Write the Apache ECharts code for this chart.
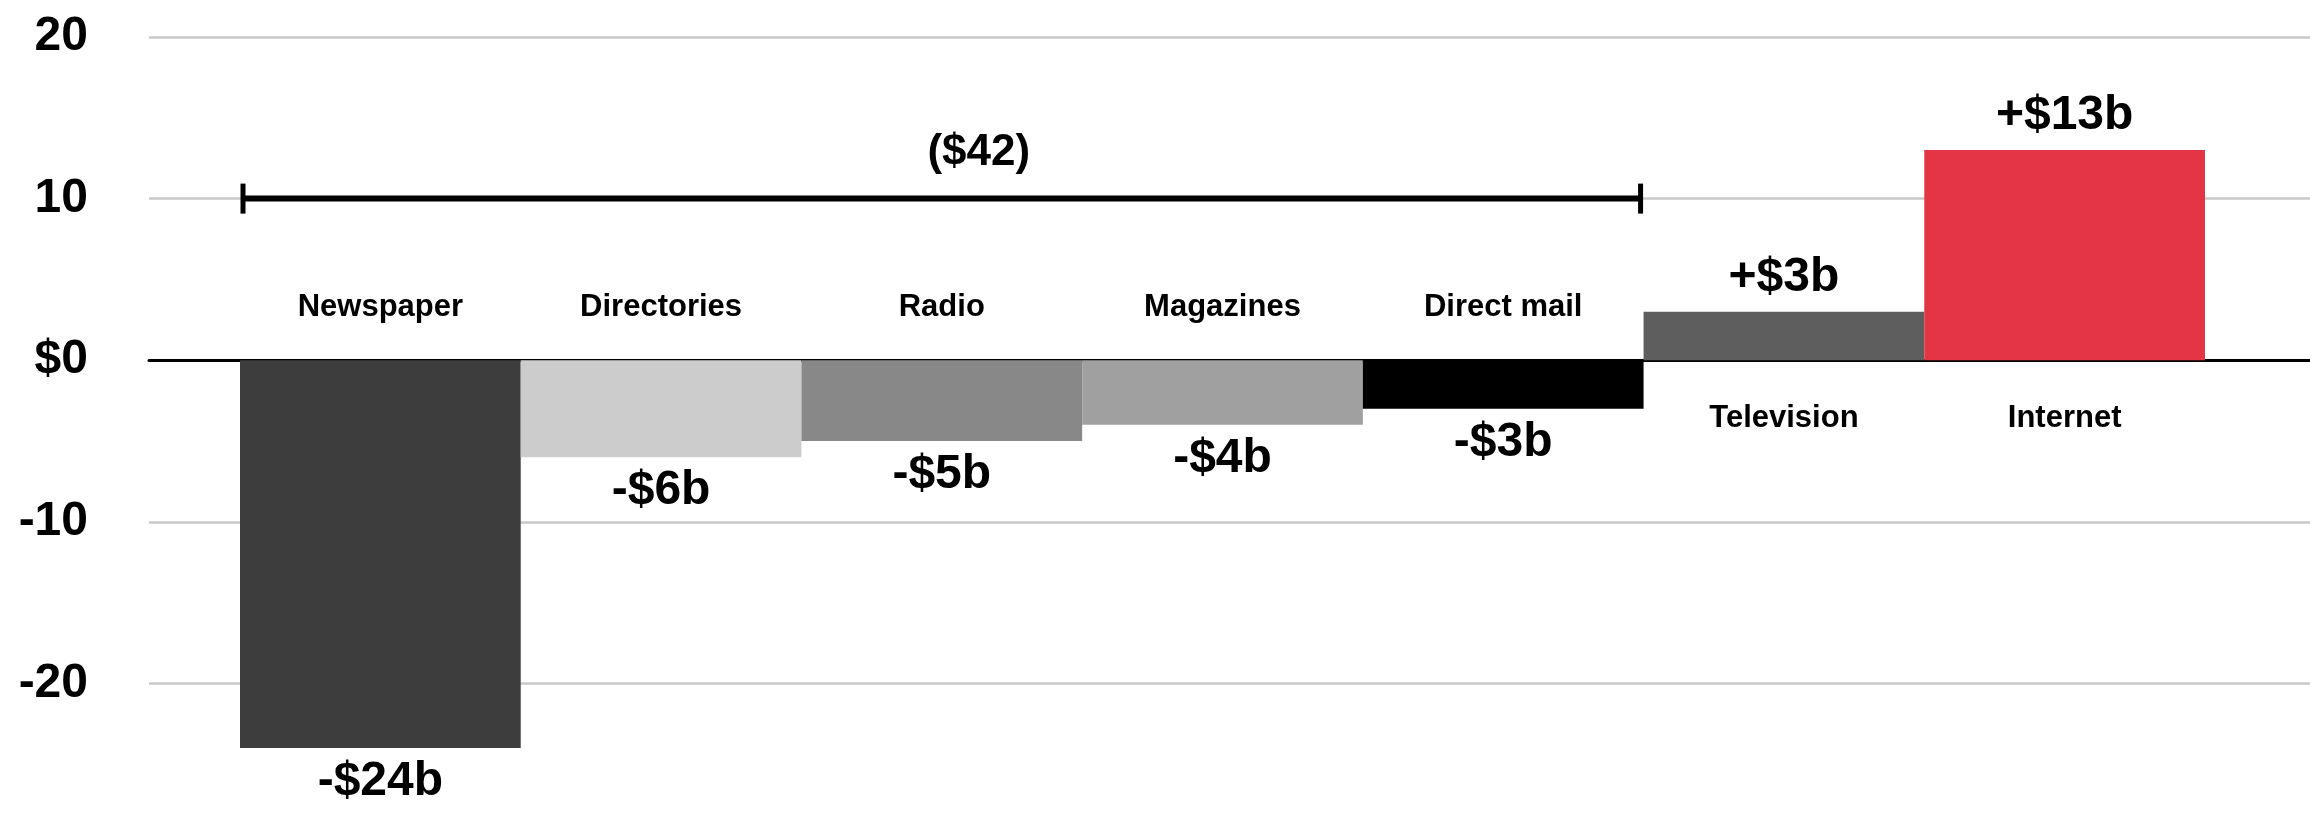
<!DOCTYPE html>
<html>
<head>
<meta charset="utf-8">
<title>Ad spending change by medium</title>
<script src="https://cdn.jsdelivr.net/npm/echarts@6/dist/echarts.min.js"></script>
<style>
  html, body { margin: 0; padding: 0; background: #ffffff; overflow: hidden; }
  /* the lowest tick (-30) sits just past the bottom of the window */
  #chart { width: 2310px; height: 846px; }
</style>
</head>
<body>
<div id="chart"></div>
<script>
// Change in ad spending by medium, $ billions
const categories = ['Newspaper', 'Directories', 'Radio', 'Magazines', 'Direct mail', 'Television', 'Internet'];
const changes = [-24, -6, -5, -4, -3, 3, 13];
const barColors = ['#3d3d3d', '#cccccc', '#888888', '#a0a0a0', '#000000', '#5e5e5e', '#e33546'];

// Y axis ticks
const yMin = -30;
const yMax = 20;
const yStep = 10;

// Bracket summarising the media that lost spending
const bracketFrom = 'Newspaper';
const bracketTo = 'Direct mail';
const bracketLevel = 10;

const FONT = "'Liberation Sans', Arial, Helvetica, sans-serif";

const fromIdx = categories.indexOf(bracketFrom);
const toIdx = categories.indexOf(bracketTo);
const bracketTotal = -changes.slice(fromIdx, toIdx + 1).reduce((a, b) => a + b, 0);

function valueLabel(v) {
  return (v > 0 ? '+$' : '-$') + Math.abs(v) + 'b';
}

const chart = echarts.init(document.getElementById('chart'), null, { renderer: 'canvas' });

const gridTop = 37;
const gridBottom = 1;

const option = {
  animation: false,
  backgroundColor: '#ffffff',
  grid: [
    // full-width grid carrying the value axis and its gridlines
    { left: 149, right: 0, top: gridTop, bottom: gridBottom, containLabel: false },
    // bars sit in a narrower band
    { left: 240, right: 105, top: gridTop, bottom: gridBottom, containLabel: false }
  ],
  xAxis: [
    {
      gridIndex: 0, type: 'value', min: 0, max: 1,
      axisLine: { show: true, onZero: true, lineStyle: { color: '#000000', width: 3 } },
      axisTick: { show: false }, axisLabel: { show: false }, splitLine: { show: false }
    },
    {
      gridIndex: 1, type: 'category', data: categories, show: false
    }
  ],
  yAxis: [
    {
      gridIndex: 0, type: 'value', min: yMin, max: yMax, interval: yStep,
      axisLine: { show: false }, axisTick: { show: false },
      splitLine: { show: true, lineStyle: { color: '#c8c8c8', width: 2.5 } },
      axisLabel: {
        show: true, margin: 61, color: '#000000', fontFamily: FONT,
        fontWeight: 'bold', fontSize: 48, align: 'right',
        formatter: function (v) {
          if (v === yMin) return '';
          return v === 0 ? '$0' : String(v);
        }
      }
    },
    {
      gridIndex: 1, type: 'value', min: yMin, max: yMax, interval: yStep, show: false
    }
  ],
  series: [
    {
      name: 'grid',
      type: 'line', xAxisIndex: 0, yAxisIndex: 0, data: [], silent: true
    },
    {
      name: 'Change',
      type: 'bar', xAxisIndex: 1, yAxisIndex: 1,
      barCategoryGap: '0%', barGap: '0%',
      z: 3,
      data: changes.map((v, i) => ({
        value: v,
        itemStyle: { color: barColors[i] },
        label: { position: v < 0 ? 'bottom' : 'top' }
      })),
      label: {
        show: true, distance: 10, color: '#000000', fontFamily: FONT,
        fontWeight: 'bold', fontSize: 48,
        formatter: p => valueLabel(p.value)
      }
    },
    {
      name: 'Category',
      type: 'scatter', xAxisIndex: 1, yAxisIndex: 1,
      symbolSize: 0, silent: true, z: 4,
      itemStyle: { opacity: 1 },
      data: categories.map((c, i) => ({
        value: [c, 0],
        label: changes[i] < 0
          ? { position: 'top', distance: 37 }
          : { position: 'bottom', distance: 43 }
      })),
      label: {
        show: true, color: '#000000', opacity: 1, fontFamily: FONT,
        fontWeight: 'bold', fontSize: 31,
        formatter: p => p.value[0]
      }
    },
    {
      name: 'Bracket',
      type: 'custom', xAxisIndex: 1, yAxisIndex: 1, z: 5, silent: true,
      data: [[fromIdx, toIdx, bracketLevel]],
      encode: { x: [0, 1], y: 2 },
      renderItem: function (params, api) {
        const start = api.coord([api.value(0), api.value(2)]);
        const end = api.coord([api.value(1), api.value(2)]);
        const band = api.size([1, 0])[0];
        const x0 = start[0] - band / 2 + 3;
        const x1 = end[0] + band / 2 - 3;
        const y = start[1];
        const stroke = { stroke: '#000000', lineWidth: 6 };
        const tick = { stroke: '#000000', lineWidth: 5 };
        return {
          type: 'group',
          children: [
            { type: 'line', shape: { x1: x0, y1: y, x2: x1, y2: y }, style: stroke },
            { type: 'line', shape: { x1: x0, y1: y - 15, x2: x0, y2: y + 15 }, style: tick },
            { type: 'line', shape: { x1: x1, y1: y - 15, x2: x1, y2: y + 15 }, style: tick },
            {
              type: 'text',
              x: (x0 + x1) / 2 + 37, y: y - 46,
              style: {
                text: '($' + bracketTotal + ')',
                fill: '#000000',
                font: 'bold 44px ' + FONT,
                align: 'center',
                verticalAlign: 'middle'
              }
            }
          ]
        };
      }
    }
  ]
};

chart.setOption(option);
</script>
</body>
</html>
